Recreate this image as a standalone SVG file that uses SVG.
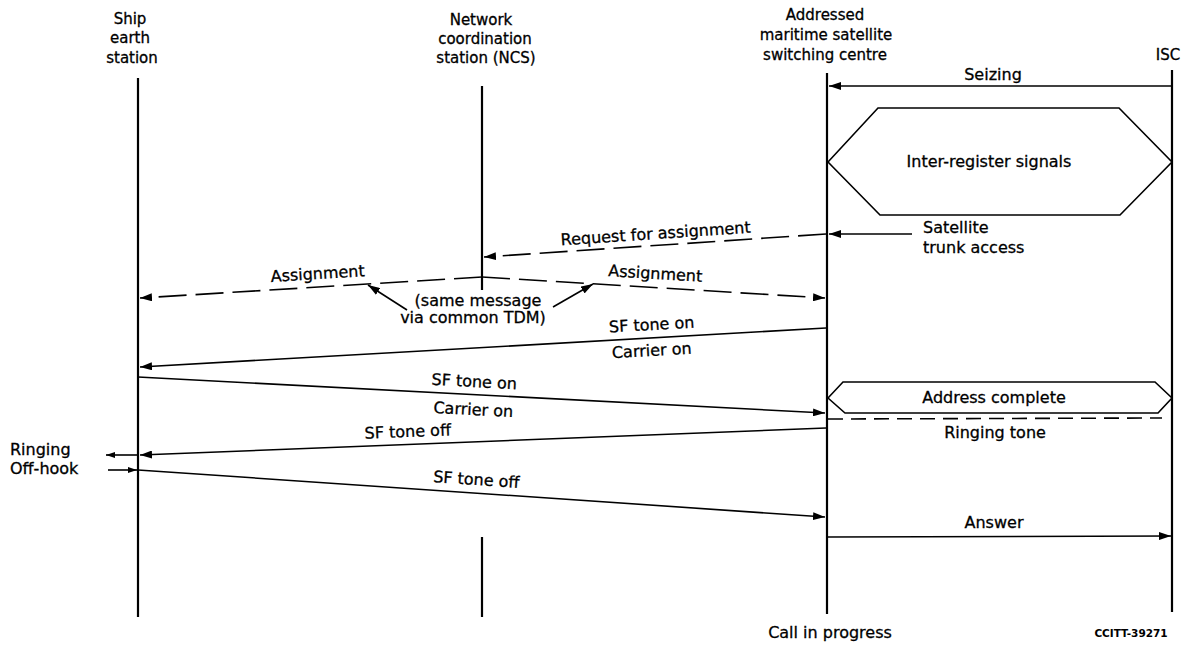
<svg xmlns="http://www.w3.org/2000/svg" width="1192" height="647" viewBox="0 0 1192 647">
<style>
text{font-family:"DejaVu Sans","Liberation Sans",sans-serif;font-size:16px;fill:#000;stroke:#000;stroke-width:0.3}
.h{font-size:15px;text-anchor:middle}
.m{text-anchor:middle}
.life{stroke:#000;stroke-width:2.2;fill:none}
.msg{stroke:#000;stroke-width:1.6;fill:none}
.dash{stroke-dasharray:28 9}
.sdash{stroke-dasharray:15 8}
.box{stroke:#000;stroke-width:1.6;fill:none}
.code{font-size:10.5px;font-weight:bold;text-anchor:middle;stroke-width:0}
</style>
<defs>
<marker id="ah" viewBox="0 0 12 8" refX="12" refY="4" markerWidth="12" markerHeight="8" orient="auto" markerUnits="userSpaceOnUse"><path d="M0,0 L12,4 L0,8 z" fill="#000"/></marker>
<marker id="as" viewBox="0 0 9 6" refX="9" refY="3" markerWidth="9" markerHeight="6" orient="auto" markerUnits="userSpaceOnUse"><path d="M0,0 L9,3 L0,6 z" fill="#000"/></marker>
</defs>
<g id="ship">
<text class="h" x="130" y="24">Ship</text>
<text class="h" x="130" y="43">earth</text>
<text class="h" x="132" y="63">station</text>
<line class="life" x1="138" y1="78" x2="138" y2="617" stroke-width="2.6"/>
</g>
<g id="ncs">
<text class="h" x="481" y="25">Network</text>
<text class="h" x="485" y="44">coordination</text>
<text class="h" x="486" y="63">station (NCS)</text>
<line class="life" x1="482" y1="86" x2="482" y2="290"/>
<line class="life" x1="482" y1="537" x2="482" y2="617"/>
</g>
<g id="mssc">
<text class="h" x="825" y="20">Addressed</text>
<text class="h" x="826" y="40">maritime satellite</text>
<text class="h" x="825" y="60">switching centre</text>
<line class="life" x1="827" y1="73" x2="827" y2="614"/>
<text class="m" x="830" y="638">Call in progress</text>
</g>
<g id="isc">
<text class="h" x="1168" y="60">ISC</text>
<line class="life" x1="1172" y1="70" x2="1172" y2="612"/>
</g>
<g id="inter-register">
<polygon class="box" points="828,162 878,108 1119,108 1172,162 1120,215 880,215"/>
<text class="m" x="989" y="167">Inter-register signals</text>
</g>
<g id="address-complete">
<polygon class="box" points="828,398 843,382 1155,382 1172,398 1158,413 845,413"/>
<text class="m" x="994" y="403">Address complete</text>
</g>
<g id="connectors">
<line class="msg" x1="1172" y1="86" x2="829" y2="86" marker-end="url(#ah)"/>
<line class="msg" x1="912" y1="234" x2="829" y2="234" marker-end="url(#ah)"/>
<line class="msg dash" x1="826" y1="234" x2="484" y2="257" marker-end="url(#ah)"/>
<line class="msg dash" x1="482" y1="277" x2="140" y2="298" marker-end="url(#ah)"/>
<line class="msg dash" x1="482" y1="277" x2="825" y2="298" marker-end="url(#ah)"/>
<line class="msg" x1="407" y1="310" x2="368" y2="285" marker-end="url(#ah)"/>
<line class="msg" x1="553" y1="307" x2="593" y2="284" marker-end="url(#ah)"/>
<line class="msg" x1="826" y1="328" x2="140" y2="367" marker-end="url(#ah)"/>
<line class="msg" x1="138" y1="377" x2="825" y2="413" marker-end="url(#ah)"/>
<line class="msg sdash" x1="828" y1="419" x2="1162" y2="418"/>
<line class="msg" x1="826" y1="428" x2="140" y2="455" marker-end="url(#ah)"/>
<line class="msg" x1="138" y1="455" x2="106" y2="455" marker-end="url(#as)"/>
<line class="msg" x1="108" y1="470" x2="137" y2="470" marker-end="url(#as)"/>
<line class="msg" x1="138" y1="470" x2="825" y2="517" marker-end="url(#ah)"/>
<line class="msg" x1="828" y1="537" x2="1171" y2="536" marker-end="url(#ah)"/>
</g>
<g id="labels">
<text class="m" x="993" y="80">Seizing</text>
<text x="923" y="233">Satellite</text>
<text x="923" y="253">trunk access</text>
<text class="m" x="656" y="239" transform="rotate(-3.83 656 239)">Request for assignment</text>
<text class="m" x="318" y="279" transform="rotate(-3.5 318 279)">Assignment</text>
<text class="m" x="655" y="279" transform="rotate(3.5 655 279)">Assignment</text>
<text class="m" x="478" y="306">(same message</text>
<text class="m" x="473" y="323">via common TDM)</text>
<text class="m" x="652" y="330" transform="rotate(-3.24 652 330)">SF tone on</text>
<text class="m" x="652" y="356" transform="rotate(-3.24 652 356)">Carrier on</text>
<text class="m" x="474" y="387" transform="rotate(3 474 387)">SF tone on</text>
<text class="m" x="473" y="415" transform="rotate(3 473 415)">Carrier on</text>
<text class="m" x="995" y="438">Ringing tone</text>
<text class="m" x="408" y="437" transform="rotate(-2.25 408 437)">SF tone off</text>
<text x="10" y="455">Ringing</text>
<text x="10" y="474">Off-hook</text>
<text class="m" x="476" y="485" transform="rotate(3.93 476 485)">SF tone off</text>
<text class="m" x="994" y="528">Answer</text>
<text class="code" x="1131" y="637">CCITT-39271</text>
</g>
</svg>
